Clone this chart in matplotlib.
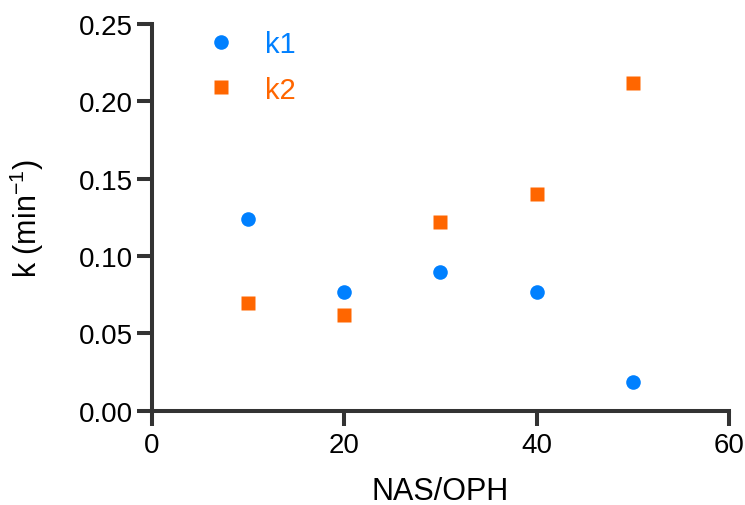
import matplotlib
matplotlib.use("Agg")
import matplotlib.pyplot as plt
from matplotlib.ticker import FormatStrFormatter

plt.rcParams['font.family'] = ['Liberation Sans', 'DejaVu Sans']
plt.rcParams['mathtext.default'] = 'regular'

# data
nas_oph = [10, 20, 30, 40, 50]
k1 = [0.124, 0.0766, 0.0899, 0.0766, 0.0188]
k2 = [0.0697, 0.0619, 0.1219, 0.1402, 0.2118]

blue = '#0080ff'
orange = '#ff6600'
axis_col = '#333333'

fig = plt.figure(figsize=(7.45, 5.06), dpi=100)
ax = fig.add_axes([0.204, 0.1864, 0.7745, 0.7642])

ax.plot(nas_oph, k1, 'o', color=blue, ms=10.5, mec='none', label='k1', clip_on=False)
ax.plot(nas_oph, k2, 's', color=orange, ms=10.5, mec='none', label='k2', clip_on=False)

ax.set_xlim(0, 60)
ax.set_ylim(0, 0.25)
ax.set_xticks([0, 20, 40, 60])
ax.set_yticks([0, 0.05, 0.10, 0.15, 0.20, 0.25])
ax.yaxis.set_major_formatter(FormatStrFormatter('%.2f'))

for s in ['top', 'right']:
    ax.spines[s].set_visible(False)
for s in ['left', 'bottom']:
    ax.spines[s].set_linewidth(2.9)
    ax.spines[s].set_color(axis_col)
ax.tick_params(width=2.9, length=10.5, color=axis_col, labelsize=20, pad=3)
ax.tick_params(axis='x', pad=5)

ax.set_xlabel('NAS/OPH', fontsize=22, labelpad=13)
ax.set_ylabel('k (min$^{-1}$)', fontsize=22, labelpad=24)

leg = ax.legend(loc='upper left', bbox_to_anchor=(0.024, 1.052), frameon=False,
                fontsize=21, labelcolor='linecolor', handletextpad=0.5,
                labelspacing=0.6, numpoints=1)

fig.savefig('out.png', dpi=100)
